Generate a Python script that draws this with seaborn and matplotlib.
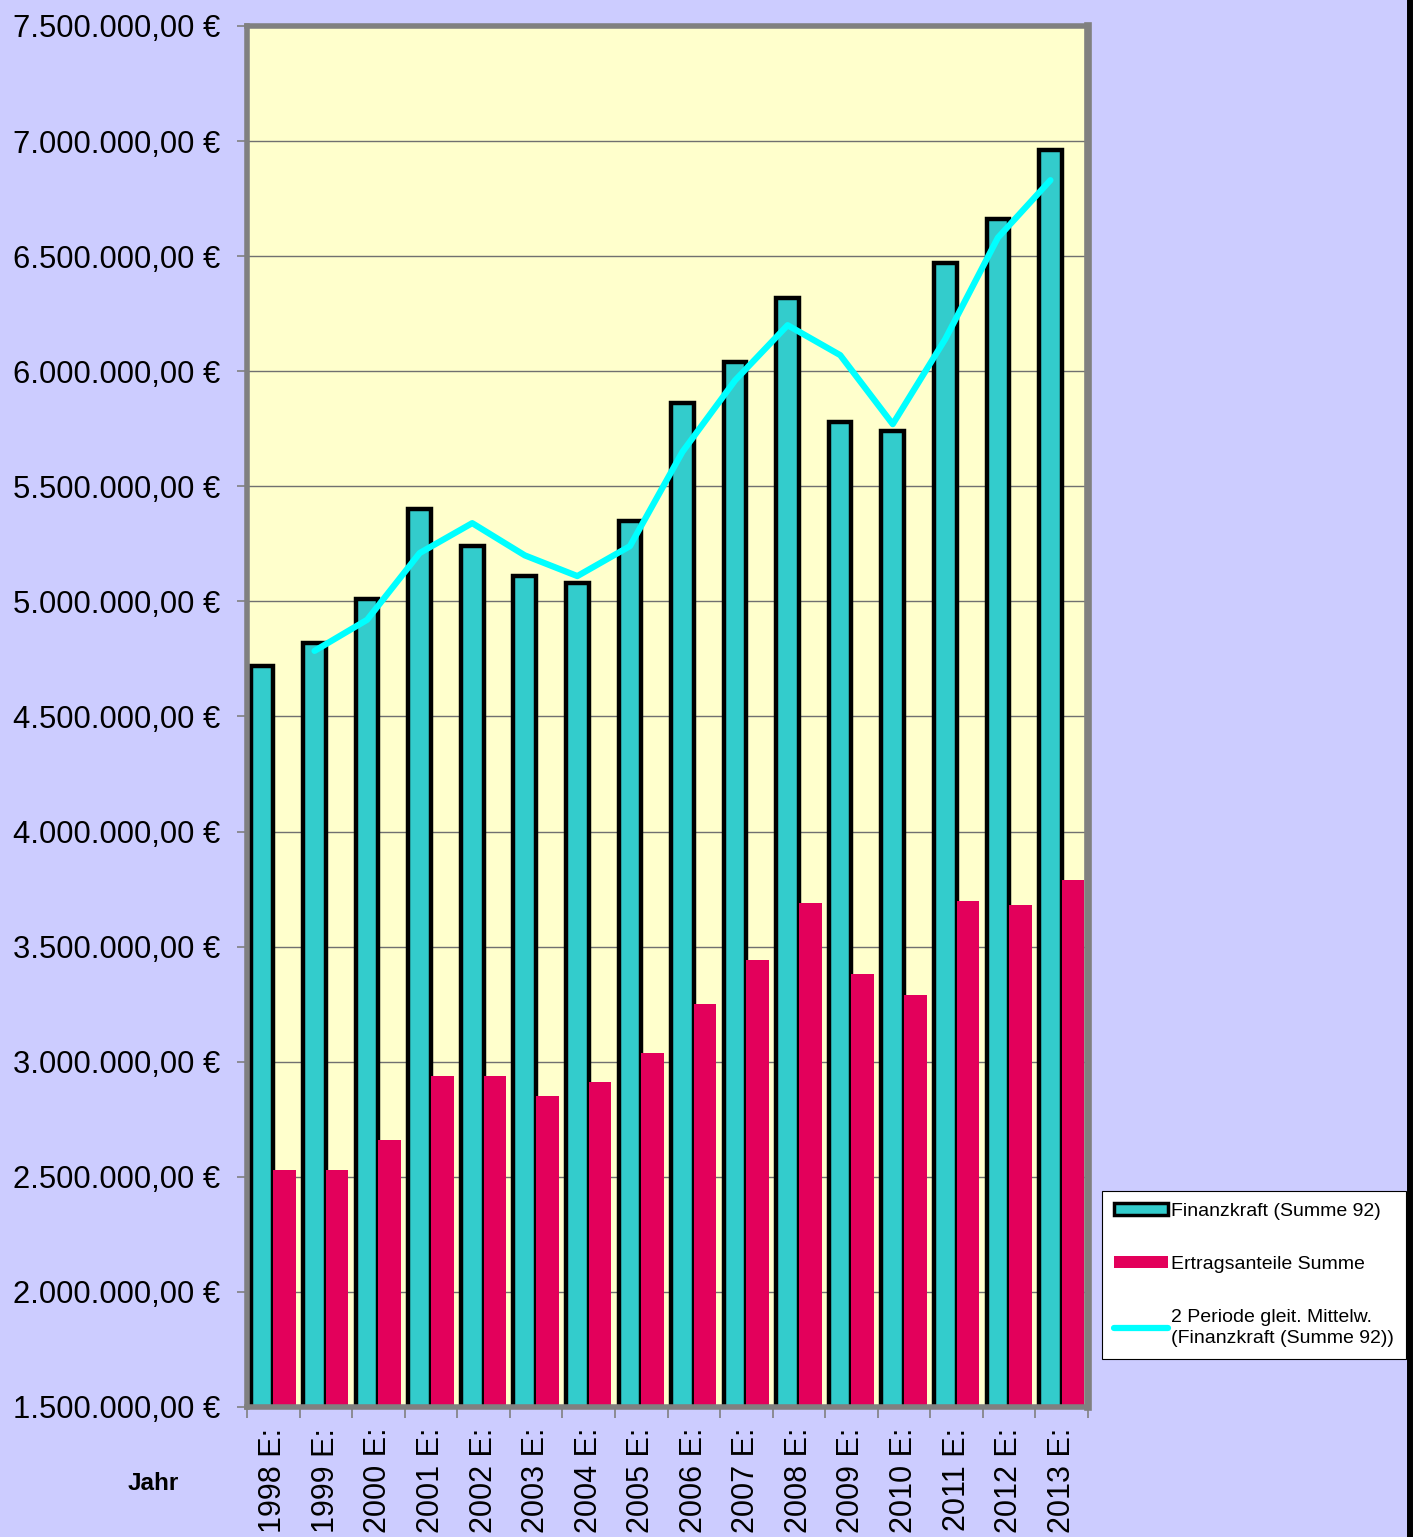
import numpy as np
import pandas as pd
import matplotlib
matplotlib.use("Agg")
import matplotlib.pyplot as plt
from matplotlib.patches import Patch
from matplotlib.lines import Line2D
from matplotlib.ticker import FuncFormatter, FixedLocator
import seaborn as sns

# ---------------- data ----------------
years = ["1998 E:", "1999 E:", "2000 E:", "2001 E:", "2002 E:", "2003 E:", "2004 E:", "2005 E:",
         "2006 E:", "2007 E:", "2008 E:", "2009 E:", "2010 E:", "2011 E:", "2012 E:", "2013 E:"]
finanzkraft = [4720000, 4820000, 5010000, 5400000, 5240000, 5110000, 5080000, 5350000,
               5860000, 6040000, 6320000, 5780000, 5740000, 6470000, 6660000, 6960000]
ertragsanteile = [2530000, 2530000, 2660000, 2940000, 2940000, 2850000, 2910000, 3040000,
                  3250000, 3440000, 3690000, 3380000, 3290000, 3700000, 3680000, 3790000]
mittelwert = [np.nan, 4785000, 4920000, 5210000, 5340000, 5200000, 5110000, 5240000,
              5650000, 5960000, 6200000, 6070000, 5770000, 6140000, 6580000, 6830000]
series_names = ["Finanzkraft (Summe 92)", "Ertragsanteile Summe"]
line_name = "2 Periode gleit. Mittelw.\n(Finanzkraft (Summe 92))"

# ---------------- style ----------------
sns.set_theme(style="white")
plt.rcParams['font.family'] = ['Liberation Sans', 'DejaVu Sans']
plt.rcParams['text.color'] = 'black'
plt.rcParams['xtick.color'] = 'black'
plt.rcParams['ytick.color'] = 'black'
plt.rcParams['xtick.labelcolor'] = 'black'
plt.rcParams['ytick.labelcolor'] = 'black'

TEAL = "#33CCCC"
PINK = "#E3005B"
CYAN = "#00FFFF"
FIG_BG = "#CCCCFF"
AX_BG = "#FFFFCC"
GREY = "#808080"

fig = plt.figure(figsize=(14.13, 15.37), dpi=100, facecolor=FIG_BG)
ax = fig.add_axes([0.1748, 0.0846, 0.5952, 0.8985])
ax.set_facecolor(AX_BG)

df = pd.DataFrame({
    "Jahr": years * 2,
    "Wert": finanzkraft + ertragsanteile,
    "Serie": [series_names[0]] * len(years) + [series_names[1]] * len(years),
})

bar_w = 0.86
sns.barplot(data=df, x="Jahr", y="Wert", hue="Serie", order=years, hue_order=series_names,
            palette=[TEAL, PINK], width=bar_w, gap=0, dodge=True, saturation=1,
            legend=False, ax=ax, zorder=3)

for p in ax.containers[0]:
    p.set_edgecolor("black")
    p.set_linewidth(3.2)
for p in ax.containers[1]:
    p.set_edgecolor("none")
    p.set_linewidth(0)

# moving-average line at the centres of the Finanzkraft bars
pos = np.arange(len(years)) - bar_w / 4
line_df = pd.DataFrame({"x": pos, "y": mittelwert}).dropna()
sns.lineplot(data=line_df, x="x", y="y", color=CYAN, linewidth=4.5, sort=False,
             ax=ax, zorder=5, solid_capstyle="round")

ax.set_xlim(-0.5, len(years) - 0.5)
ax.set_ylim(1500000, 7500000)

# y axis
yt = np.arange(1500000, 7500001, 500000)
ax.set_yticks(yt)
def fmt(v, _):
    s = f"{v:,.2f}".replace(",", "X").replace(".", ",").replace("X", ".")
    return s + " \u20ac"
ax.yaxis.set_major_formatter(FuncFormatter(fmt))
ax.tick_params(axis="y", which="major", length=7, width=1.2, color=GREY,
               labelsize=22.3, pad=12, left=True, direction="out", labelcolor="black")
ax.grid(axis="y", color="#707070", linewidth=1.0, zorder=0)
ax.set_axisbelow(True)

# x axis
ax.set_xticks(np.arange(len(years)))
ax.set_xticklabels(years, rotation=90, va="top", ha="center")
ax.xaxis.set_minor_locator(FixedLocator(np.arange(len(years) + 1) - 0.5))
ax.tick_params(axis="x", which="major", length=0, labelsize=22, pad=15, labelcolor="black")
ax.tick_params(axis="x", which="minor", length=8, width=1.2, color=GREY, bottom=True,
               direction="out")
ax.set_xlabel("")
ax.set_ylabel("")

for side in ["left", "top", "bottom"]:
    ax.spines[side].set_color(GREY)
    ax.spines[side].set_linewidth(4)
    ax.spines[side].set_zorder(6)
ax.spines["right"].set_color(GREY)
ax.spines["right"].set_linewidth(5.5)
ax.spines["right"].set_zorder(6)

fig.text(153 / 1413, 1 - 1484 / 1537, "Jahr", fontsize=17.5, fontweight="bold",
         ha="center", va="center", color="black")

# legend
handles = [
    Patch(facecolor=TEAL, edgecolor="black", linewidth=2.5),
    Patch(facecolor=PINK, edgecolor="none"),
    Line2D([0], [0], color=CYAN, linewidth=4.5, solid_capstyle="round"),
]
leg = fig.legend(handles, series_names + [line_name], loc="upper left",
                 bbox_to_anchor=(1102 / 1413, 1 - 1191 / 1537),
                 fontsize=14, frameon=True, fancybox=False, framealpha=1,
                 facecolor="white", edgecolor="black", borderpad=0.6,
                 labelspacing=1.85, handlelength=2.8, handleheight=0.55,
                 handletextpad=0.15, borderaxespad=0)
leg.get_frame().set_linewidth(0.8)
for t in leg.get_texts():
    t.set_color("black")
    t.set_linespacing(1.35)

# right border of the chart area
fig.add_artist(Line2D([1410 / 1413, 1410 / 1413], [0, 1], color="black", linewidth=4.3,
                      transform=fig.transFigure))

fig.savefig("out.png", dpi=100, facecolor=FIG_BG)
